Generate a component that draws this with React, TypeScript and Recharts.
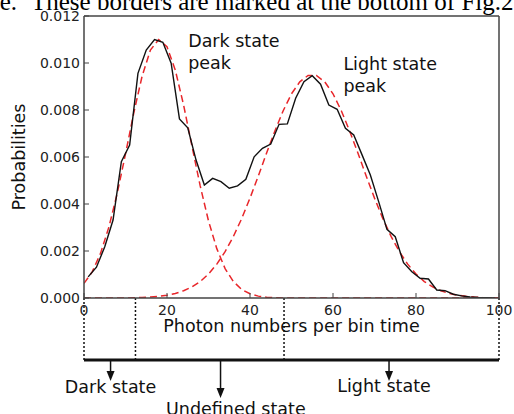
import React from "react";
import { LineChart, Line, XAxis, YAxis, ReferenceLine, ReferenceDot } from "recharts";

// measured histogram (odd photon numbers)
const countBins = [
  1, 3, 5, 7, 9, 11, 13, 15, 17, 19, 21, 23, 25, 27, 29, 31, 33, 35, 37, 39, 41, 43, 45, 47, 49,
  51, 53, 55, 57, 59, 61, 63, 65, 67, 69, 71, 73, 75, 77, 79, 81, 83, 85, 87, 89, 91, 93, 95, 97, 99,
];
const measured = [
  0.0009, 0.00131, 0.00218, 0.00332, 0.0058, 0.00651, 0.00956, 0.01055, 0.011, 0.01088, 0.00999,
  0.00762, 0.00724, 0.00587, 0.00481, 0.00509, 0.00495, 0.00467, 0.00477, 0.00505, 0.00601, 0.00637,
  0.00655, 0.00739, 0.00741, 0.0085, 0.0092, 0.00946, 0.0091, 0.00821, 0.00803, 0.00722, 0.00694,
  0.00609, 0.00523, 0.0041, 0.00292, 0.00261, 0.0015, 0.00112, 0.00084, 0.00081, 0.00034, 0.00031,
  0.00016, 0.00009, 0.00004, 0.00002, 0.00001, 0.0,
];

// fitted peaks (even photon numbers)
const fitBins = [
  0, 2, 4, 6, 8, 10, 12, 14, 16, 18, 20, 22, 24, 26, 28, 30, 32, 34, 36, 38, 40, 42, 44, 46, 48, 50,
  52, 54, 56, 58, 60, 62, 64, 66, 68, 70, 72, 74, 76, 78, 80, 82, 84, 86, 88, 90, 92, 94, 96, 98, 100,
];
const darkFit = [
  0.00062, 0.00112, 0.00191, 0.00302, 0.00445, 0.00613, 0.00788, 0.00944, 0.01055, 0.011, 0.01069,
  0.0097, 0.00821, 0.00648, 0.00477, 0.00328, 0.0021, 0.00125, 0.0007, 0.00036, 0.00018, 0.00008,
  0.00003, 0.00001, 0, 0, 0, 0, 0, 0, 0, 0, 0, 0, 0, 0, 0, 0, 0, 0, 0, 0, 0, 0, 0, 0, 0, 0, 0, 0, 0,
];
const lightFit = [
  0, 0, 0, 0, 0, 0, 0.00001, 0.00002, 0.00004, 0.00007, 0.00012, 0.00019, 0.00031, 0.00047, 0.0007,
  0.00102, 0.00144, 0.00197, 0.00262, 0.00338, 0.00425, 0.00519, 0.00617, 0.00711, 0.00797, 0.00869,
  0.0092, 0.00947, 0.00947, 0.0092, 0.00869, 0.00797, 0.00711, 0.00617, 0.00519, 0.00425, 0.00338,
  0.00262, 0.00197, 0.00144, 0.00102, 0.0007, 0.00047, 0.00031, 0.00019, 0.00012, 0.00007, 0.00004,
  0.00002, 0.00001, 0.00001,
];

const xTicks = [0, 20, 40, 60, 80, 100];
const yTicks = [0, 0.002, 0.004, 0.006, 0.008, 0.01, 0.012];

// state borders / pointers on the photon axis
const stateBorders = [0, 12.4, 48.2, 100];
const stateNames = ["Dark state", "Undefined state", "Light state"];
const statePointers = [6.4, 32.9, 73.5];
const stateLabelX = [6.4, 36.6, 72.3];

const FONT = "'DejaVu Sans', sans-serif";
const INK = "#111";
const SPINE = "#444";
const RED = "#e8262a";

const measuredData = countBins.map((x, i) => ({ x, p: measured[i] }));
const fitData = fitBins.map((x, i) => ({ x, dark: darkFit[i], light: lightFit[i] }));

// y levels below the axis (data units)
const BAR_Y = -0.00264;
const ARROW_END = [-0.00353, -0.00426, -0.00353];
const LABEL_Y = [-0.00404, -0.00498, -0.004];

function Arrow(props: any) {
  const { x1, y1, x2, y2 } = props;
  const top = Math.min(y1, y2);
  const tip = Math.max(y1, y2);
  return (
    <g>
      <line x1={x1} y1={top} x2={x2} y2={tip - 8} stroke={INK} strokeWidth={1.5} />
      <polygon points={`${x2 - 4},${tip - 10} ${x2 + 4},${tip - 10} ${x2},${tip}`} fill={INK} />
    </g>
  );
}

function textShape(lines: string[]) {
  return (p: any) => (
    <text x={p.cx} y={p.cy} fontSize={17.5} fill={INK} fontFamily={FONT}>
      {lines.map((l, i) => (
        <tspan key={i} x={p.cx} dy={i === 0 ? 0 : 22}>
          {l}
        </tspan>
      ))}
    </text>
  );
}

export default function App() {
  return (
    <div style={{ position: "absolute", left: 0, top: 0, width: 514, height: 414, background: "#fff", fontFamily: FONT }}>
      <svg width={514} height={20} style={{ position: "absolute", left: 0, top: 0 }}>
        <text x={17} y={9.5} textAnchor="end" fontSize={25} fontFamily="'Liberation Serif', serif" fill="#000">
          time.
        </text>
        <text x={31} y={9.5} fontSize={25} fontFamily="'Liberation Serif', serif" fill="#000">
          These borders are marked at the bottom of Fig.2
        </text>
      </svg>
      <div style={{ position: "absolute", left: 0, top: 0 }}>
        <LineChart width={514} height={414} margin={{ top: 15, right: 14, bottom: 86, left: 0 }}>
          <XAxis
            dataKey="x"
            type="number"
            domain={[0, 100]}
            ticks={xTicks}
            height={30}
            tickSize={-5}
            tickMargin={12}
            tick={{ fill: "#222", fontSize: 14 }}
            axisLine={{ stroke: SPINE, strokeWidth: 1.5 }}
            tickLine={{ stroke: SPINE }}
            allowDataOverflow
            label={{
              content: ({ viewBox }: any) => (
                <text x={viewBox.x + viewBox.width / 2} y={viewBox.y + 34} textAnchor="middle" fontSize={17.5} fill={INK}>
                  Photon numbers per bin time
                </text>
              ),
            }}
          />
          <XAxis
            xAxisId="top"
            orientation="top"
            dataKey="x"
            type="number"
            domain={[0, 100]}
            ticks={xTicks}
            height={1}
            tickSize={-5}
            tickFormatter={() => ""}
            axisLine={{ stroke: SPINE, strokeWidth: 1.5 }}
            tickLine={{ stroke: SPINE }}
          />
          <YAxis
            type="number"
            domain={[0, 0.012]}
            ticks={yTicks}
            width={84}
            tickSize={-5}
            tickMargin={9}
            tickFormatter={(v: number) => v.toFixed(3)}
            tick={{ fill: "#222", fontSize: 14 }}
            axisLine={{ stroke: SPINE, strokeWidth: 1.5 }}
            tickLine={{ stroke: SPINE }}
            allowDataOverflow
            label={{
              content: ({ viewBox }: any) => {
                const cx = viewBox.x + 24.5;
                const cy = viewBox.y + viewBox.height / 2;
                return (
                  <text x={cx} y={cy} transform={`rotate(-90, ${cx}, ${cy})`} textAnchor="middle" fontSize={17.5} fill={INK}>
                    Probabilities
                  </text>
                );
              },
            }}
          />
          <YAxis
            yAxisId="right"
            orientation="right"
            type="number"
            domain={[0, 0.012]}
            ticks={yTicks}
            width={1}
            tickSize={-5}
            tickFormatter={() => ""}
            axisLine={{ stroke: SPINE, strokeWidth: 1.5 }}
            tickLine={{ stroke: SPINE }}
          />

          <Line data={fitData} dataKey="dark" type="linear" stroke={RED} strokeWidth={1.5} strokeDasharray="7 4" dot={false} isAnimationActive={false} />
          <Line data={fitData} dataKey="light" type="linear" stroke={RED} strokeWidth={1.5} strokeDasharray="7 4" dot={false} isAnimationActive={false} />
          <Line data={measuredData} dataKey="p" type="linear" stroke={INK} strokeWidth={1.4} dot={false} isAnimationActive={false} />

          <ReferenceDot x={25.1} y={0.01068} r={1} ifOverflow="visible" shape={textShape(["Dark state", "peak"])} />
          <ReferenceDot x={62.5} y={0.0097} r={1} ifOverflow="visible" shape={textShape(["Light state", "peak"])} />

          {stateBorders.map((b) => (
            <ReferenceLine
              key={`b${b}`}
              segment={[{ x: b, y: 0 }, { x: b, y: BAR_Y }]}
              stroke={INK}
              strokeWidth={1.5}
              strokeDasharray="2 2"
              ifOverflow="visible"
            />
          ))}
          <ReferenceLine
            segment={[{ x: 0, y: BAR_Y }, { x: 100, y: BAR_Y }]}
            stroke={INK}
            strokeWidth={3}
            ifOverflow="visible"
          />
          {statePointers.map((px, i) => (
            <ReferenceLine
              key={`a${i}`}
              segment={[{ x: px, y: BAR_Y }, { x: px, y: ARROW_END[i] }]}
              ifOverflow="visible"
              shape={(p: any) => <Arrow {...p} />}
            />
          ))}
          {stateNames.map((name, i) => (
            <ReferenceDot
              key={name}
              x={stateLabelX[i]}
              y={LABEL_Y[i]}
              r={1}
              ifOverflow="visible"
              shape={(p: any) => (
                <text x={p.cx} y={p.cy} textAnchor="middle" fontSize={17.5} fill={INK} fontFamily={FONT}>
                  {name}
                </text>
              )}
            />
          ))}
        </LineChart>
      </div>
    </div>
  );
}
